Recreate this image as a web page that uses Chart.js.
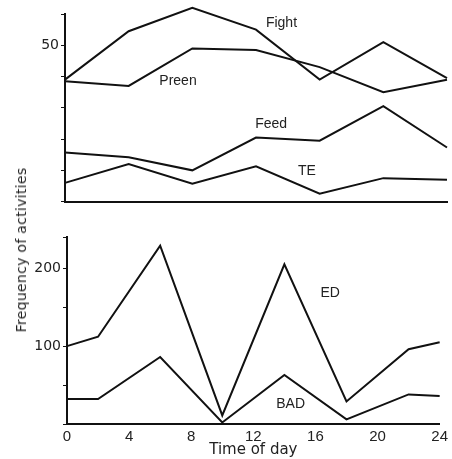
<!DOCTYPE html>
<html>
<head>
<meta charset="utf-8">
<script src="https://cdn.jsdelivr.net/npm/chart.js@4"></script>
<style>
  body { margin: 0; background: #fff; }
  #wrap { position: relative; width: 452px; height: 459px; }
  #topChart { position: absolute; left: 0; top: 0; }
  #bottomChart { position: absolute; left: 0; top: 225px; }
  #yTitle {
    position: absolute; left: 21px; top: 250px;
    transform: translate(-50%, -50%) rotate(-90deg);
    font-family: "DejaVu Sans", sans-serif; font-size: 14px; font-weight: 400;
    color: #222; white-space: nowrap; letter-spacing: 0.3px;
  }
</style>
</head>
<body>
<div id="wrap">
  <canvas id="topChart" width="452" height="212"></canvas>
  <canvas id="bottomChart" width="452" height="234"></canvas>
  <div id="yTitle">Frequency of activities</div>
</div>
<script>
// Top panel: hours and values
const topHours = [0, 4, 8, 12, 16, 20, 24];
const fight = [39, 54.5, 62, 55, 39, 51, 39.5];
const preen = [38.5, 37, 49, 48.5, 43, 35, 39];
const feed = [15.7, 14.2, 10, 20.5, 19.5, 30.5, 17.3];
const te = [6, 12, 5.7, 11.3, 2.5, 7.5, 7];

// Bottom panel
const bottomHours = [0, 2, 6, 10, 14, 18, 22, 24];
const ed = [100, 112, 229, 11, 205, 29, 96, 105];
const bad = [32, 32, 86, 2, 63, 6, 38, 36];

const xTicks = [0, 4, 8, 12, 16, 20, 24];

// line labels (hour, value)
const topLabels = [
    { text: "Fight", x: 13.6, y: 57 },
    { text: "Preen", x: 7.1, y: 38.4 },
    { text: "Feed", x: 12.95, y: 24.8 },
    { text: "TE", x: 15.2, y: 9.9 }
];
const bottomLabels = [
    { text: "ED", x: 16.95, y: 168 },
    { text: "BAD", x: 14.4, y: 25.5 }
];

Chart.defaults.font.family = "'DejaVu Sans', sans-serif";
Chart.defaults.font.size = 14;
Chart.defaults.color = "#222";
Chart.defaults.animation = false;

function toPoints(xs, ys) {
    return xs.map((x, i) => ({ x: x, y: ys[i] }));
}

function lineSet(xs, ys) {
    return {
        data: toPoints(xs, ys),
        borderColor: "#111",
        borderWidth: 2,
        pointRadius: 0,
        tension: 0,
        clip: false
    };
}

// draws series names at data coordinates
const labelPlugin = {
    id: "seriesLabels",
    afterDatasetsDraw(chart, args, opts) {
        const ctx = chart.ctx;
        ctx.save();
        ctx.font = "14px 'Liberation Sans', sans-serif";
        ctx.fillStyle = "#222";
        ctx.textAlign = "center";
        ctx.textBaseline = "middle";
        opts.items.forEach(l => {
            ctx.fillText(l.text, chart.scales.x.getPixelForValue(l.x), chart.scales.y.getPixelForValue(l.y));
        });
        ctx.restore();
    }
};

new Chart(document.getElementById("topChart"), {
    type: "line",
    data: {
        datasets: [lineSet(topHours, fight), lineSet(topHours, preen), lineSet(topHours, feed), lineSet(topHours, te)]
    },
    options: {
        responsive: false,
        layout: { padding: { top: 14, right: 5, left: 0, bottom: 0 } },
        plugins: { legend: { display: false }, tooltip: { enabled: false }, seriesLabels: { items: topLabels } },
        scales: {
            x: {
                type: "linear", min: 0, max: 24,
                border: { color: "#111", width: 2 },
                grid: { display: false },
                ticks: { display: false },
                afterFit: s => { s.height = 8; }
            },
            y: {
                min: 0, max: 60,
                border: { color: "#111", width: 2 },
                grid: { drawOnChartArea: false, tickLength: 4, color: "#111", tickWidth: 1 },
                ticks: {
                    stepSize: 10, padding: 2,
                    callback: v => v === 50 ? "50" : ""
                },
                afterFit: s => { s.width = 65; }
            }
        }
    },
    plugins: [labelPlugin]
});

new Chart(document.getElementById("bottomChart"), {
    type: "line",
    data: {
        datasets: [lineSet(bottomHours, ed), lineSet(bottomHours, bad)]
    },
    options: {
        responsive: false,
        layout: { padding: { top: 12, right: 5, left: 0, bottom: 0 } },
        plugins: { legend: { display: false }, tooltip: { enabled: false }, seriesLabels: { items: bottomLabels } },
        scales: {
            x: {
                type: "linear", min: 0, max: 24,
                border: { color: "#111", width: 2 },
                grid: { display: false, drawTicks: false },
                afterBuildTicks: s => { s.ticks = xTicks.map(v => ({ value: v })); },
                ticks: { padding: 4, maxRotation: 0, autoSkip: false, font: { family: "'Liberation Sans', sans-serif", size: 15 } },
                title: { display: true, text: "Time of day", padding: 0, font: { size: 15 } },
                afterFit: s => { s.height = 35; }
            },
            y: {
                min: 0, max: 240,
                border: { color: "#111", width: 2 },
                grid: { drawOnChartArea: false, tickLength: 4, color: "#111", tickWidth: 1 },
                ticks: {
                    stepSize: 50, padding: 2,
                    callback: v => (v === 100 || v === 200) ? String(v) : ""
                },
                afterFit: s => { s.width = 67; }
            }
        }
    },
    plugins: [labelPlugin]
});
</script>
</body>
</html>
